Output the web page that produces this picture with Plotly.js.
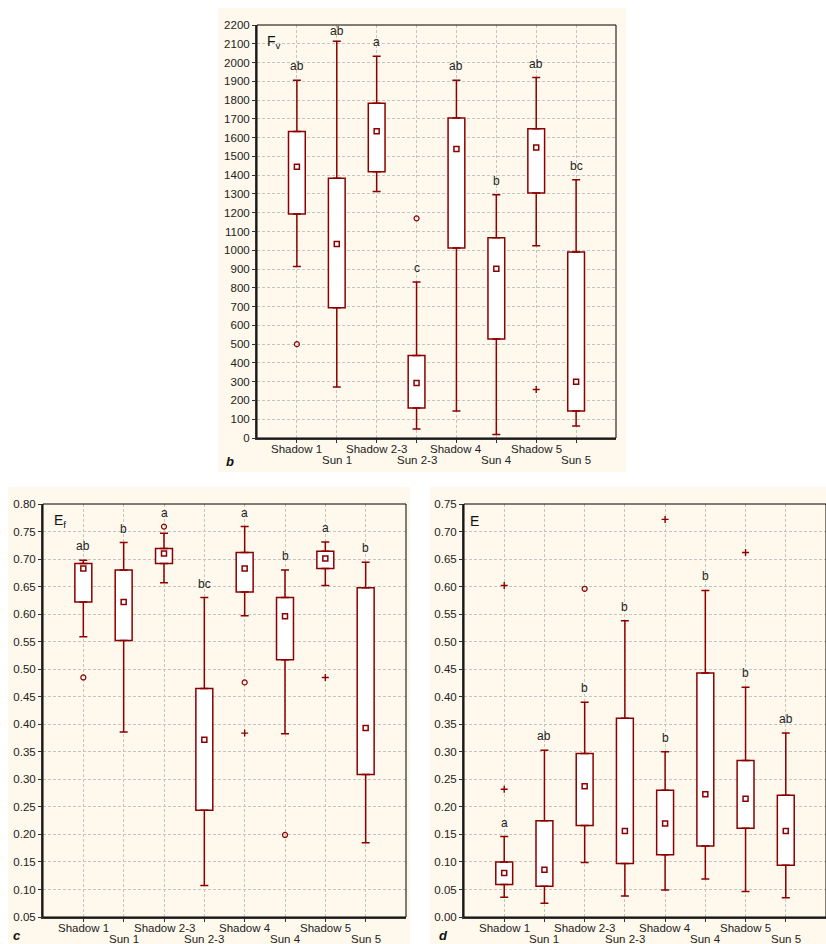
<!DOCTYPE html>
<html><head><meta charset="utf-8">
<script src="https://cdn.plot.ly/plotly-3.0.1.min.js"></script>
<style>html,body{margin:0;padding:0;background:#fff}#chart{width:826px;height:944px}</style>
</head><body><div id="chart"></div>
<script>
const categories = ["Shadow 1","Sun 1","Shadow 2-3","Sun 2-3","Shadow 4","Sun 4","Shadow 5","Sun 5"];

// Panel b: Fv
const fvLower  = [913, 272, 1313, 48, 144, 18, 1024, 64];
const fvQ1     = [1193, 694, 1418, 160, 1012, 528, 1305, 144];
const fvMedian = [1445, 1033, 1634, 293, 1540, 902, 1548, 300];
const fvQ3     = [1633, 1384, 1783, 439, 1705, 1067, 1647, 991];
const fvUpper  = [1906, 2113, 2033, 831, 1906, 1296, 1920, 1376];
const fvLetters = ["ab","ab","a","c","ab","b","ab","bc"];
const fvOutlierCat = ["Shadow 1","Sun 2-3"];
const fvOutlierVal = [500, 1170];
const fvExtremeCat = ["Shadow 5"];
const fvExtremeVal = [258];

// Panel c: Ef
const efLower  = [0.559, 0.386, 0.657, 0.107, 0.597, 0.383, 0.652, 0.185];
const efQ1     = [0.622, 0.552, 0.692, 0.244, 0.640, 0.517, 0.683, 0.309];
const efMedian = [0.683, 0.622, 0.710, 0.372, 0.683, 0.596, 0.701, 0.393];
const efQ3     = [0.692, 0.680, 0.719, 0.465, 0.712, 0.630, 0.714, 0.648];
const efUpper  = [0.698, 0.730, 0.747, 0.630, 0.759, 0.680, 0.731, 0.694];
const efLetters = ["ab","b","a","bc","a","b","a","b"];
const efOutlierCat = ["Shadow 1","Shadow 2-3","Shadow 4","Sun 4"];
const efOutlierVal = [0.485, 0.759, 0.476, 0.199];
const efExtremeCat = ["Shadow 4","Shadow 5"];
const efExtremeVal = [0.384, 0.485];

// Panel d: E
const eLower  = [0.036, 0.025, 0.099, 0.038, 0.049, 0.069, 0.0465, 0.035];
const eQ1     = [0.059, 0.056, 0.166, 0.097, 0.113, 0.129, 0.161, 0.094];
const eMedian = [0.080, 0.086, 0.2375, 0.156, 0.170, 0.223, 0.2146, 0.156];
const eQ3     = [0.100, 0.175, 0.297, 0.361, 0.230, 0.443, 0.284, 0.221];
const eUpper  = [0.146, 0.303, 0.390, 0.538, 0.300, 0.593, 0.417, 0.334];
const eLetters = ["a","ab","b","b","b","b","b","ab"];
const eOutlierCat = ["Shadow 2-3"];
const eOutlierVal = [0.596];
const eExtremeCat = ["Shadow 1","Shadow 1","Shadow 4","Shadow 5"];
const eExtremeVal = [0.602, 0.232, 0.722, 0.662];

const RED = '#8b0000';
const FONT = 'Liberation Sans, Arial, sans-serif';
const CREAM = '#fef9ec';
const PLOT_H = 413; // plot height in px, used to turn label offsets into axis units

const traces = [];
const annotations = [];
const shapes = [];

function panel(xa, ya, p, yRange) {
  const xr = xa.replace('axis',''), yr = ya.replace('axis','');
  const span = yRange[1] - yRange[0];
  const perPx = span / PLOT_H;
  traces.push({type:'bar', x:categories, base:p.q1, y:p.q3.map((v,i)=>v-p.q1[i]),
    width:0.42, xaxis:xr, yaxis:yr, hoverinfo:'skip',
    marker:{color:'#ffffff', line:{color:RED, width:1.5}}});
  traces.push({type:'scatter', mode:'markers', x:categories, y:p.q3, xaxis:xr, yaxis:yr,
    marker:{size:1, opacity:0}, hoverinfo:'skip',
    error_y:{type:'data', symmetric:false, array:p.upper.map((v,i)=>v-p.q3[i]),
      arrayminus:p.q3.map(()=>0), width:4, thickness:1.5, color:RED}});
  traces.push({type:'scatter', mode:'markers', x:categories, y:p.q1, xaxis:xr, yaxis:yr,
    marker:{size:1, opacity:0}, hoverinfo:'skip',
    error_y:{type:'data', symmetric:false, array:p.q1.map(()=>0),
      arrayminus:p.q1.map((v,i)=>v-p.lower[i]), width:4, thickness:1.5, color:RED}});
  traces.push({type:'scatter', mode:'markers', x:categories, y:p.median, xaxis:xr, yaxis:yr,
    marker:{symbol:'square-open', size:5, color:RED, line:{width:1.5, color:RED}}});
  traces.push({type:'scatter', mode:'markers', x:p.outCat, y:p.outVal, xaxis:xr, yaxis:yr,
    marker:{symbol:'circle-open', size:5, color:RED, line:{width:1.2, color:RED}}});
  traces.push({type:'scatter', mode:'markers', x:p.extCat, y:p.extVal, xaxis:xr, yaxis:yr,
    marker:{symbol:'cross-thin-open', size:5, color:RED, line:{width:1.4, color:RED}}});

  categories.forEach((c,i)=>{
    annotations.push({text:c, x:c, xref:xr, y:0, yref:yr+' domain', yanchor:'middle',
      yshift:(i%2===0)?-11:-22, showarrow:false, font:{size:11.5, family:FONT, color:'#222'}});
    let anchor = p.upper[i];
    p.outCat.forEach((oc,k)=>{ if(oc===c && p.outVal[k]>anchor && p.outVal[k]-anchor < 0.05*span) anchor = p.outVal[k]; });
    const ly = Math.min(anchor + 14*perPx, yRange[1] - 6*perPx);
    annotations.push({text:p.letters[i], x:c, xref:xr, y:ly, yref:yr, yanchor:'middle',
      showarrow:false, font:{size:12, family:FONT, color:'#222'}});
  });
  shapes.push({type:'rect', xref:xr+' domain', yref:yr+' domain', x0:0, x1:1, y0:0, y1:1,
    line:{color:'#000', width:1}, layer:'above'});
}

panel('xaxis','yaxis', {q1:fvQ1, median:fvMedian, q3:fvQ3, lower:fvLower, upper:fvUpper,
  letters:fvLetters, outCat:fvOutlierCat, outVal:fvOutlierVal, extCat:fvExtremeCat, extVal:fvExtremeVal}, [0,2200]);
panel('xaxis2','yaxis2', {q1:efQ1, median:efMedian, q3:efQ3, lower:efLower, upper:efUpper,
  letters:efLetters, outCat:efOutlierCat, outVal:efOutlierVal, extCat:efExtremeCat, extVal:efExtremeVal}, [0.05,0.80]);
panel('xaxis3','yaxis3', {q1:eQ1, median:eMedian, q3:eQ3, lower:eLower, upper:eUpper,
  letters:eLetters, outCat:eOutlierCat, outVal:eOutlierVal, extCat:eExtremeCat, extVal:eExtremeVal}, [0,0.75]);

// cream panel backgrounds
shapes.push({type:'rect', xref:'paper', yref:'paper', x0:218/826, x1:626/826, y0:1-472/944, y1:1-8/944, fillcolor:CREAM, line:{width:0}, layer:'below'});
shapes.push({type:'rect', xref:'paper', yref:'paper', x0:8/826, x1:410/826, y0:0, y1:1-487/944, fillcolor:CREAM, line:{width:0}, layer:'below'});
shapes.push({type:'rect', xref:'paper', yref:'paper', x0:430/826, x1:1, y0:0, y1:1-487/944, fillcolor:CREAM, line:{width:0}, layer:'below'});

// panel titles
annotations.push({text:'F<sub>v</sub>', xref:'x domain', yref:'y domain', x:0.022, y:0.959, xanchor:'left', yanchor:'middle', showarrow:false, font:{size:14, family:FONT, color:'#111'}});
annotations.push({text:'E<sub>f</sub>', xref:'x2 domain', yref:'y2 domain', x:0.024, y:0.959, xanchor:'left', yanchor:'middle', showarrow:false, font:{size:14, family:FONT, color:'#111'}});
annotations.push({text:'E', xref:'x3 domain', yref:'y3 domain', x:0.011, y:0.959, xanchor:'left', yanchor:'middle', showarrow:false, font:{size:14, family:FONT, color:'#111'}});
// panel letters
[['b',230,461],['c',17,935],['d',444,935]].forEach(a=>{
  annotations.push({text:'<b><i>'+a[0]+'</i></b>', xref:'paper', yref:'paper', x:a[1]/826, y:1-a[2]/944,
    xanchor:'center', yanchor:'middle', showarrow:false, font:{size:13, family:FONT, color:'#111'}});
});

function xAxis(dom, anchor){
  return {domain:dom, anchor:anchor, type:'category', categoryorder:'array', categoryarray:categories,
    range:[-1,8], showgrid:true, gridcolor:'#c4c4c4', griddash:'3px,2px', gridwidth:1,
    showline:true, linecolor:'#333', linewidth:2, ticks:'outside', ticklen:3, tickcolor:'#333',
    showticklabels:false, zeroline:false, fixedrange:true};
}
function yAxis(dom, anchor, range, dtick, fmt){
  return {domain:dom, anchor:anchor, range:range, tick0:0, dtick:dtick, tickformat:fmt,
    showgrid:true, gridcolor:'#c4c4c4', griddash:'3px,2px', gridwidth:1,
    showline:true, linecolor:'#333', linewidth:2, ticks:'outside', ticklen:3, tickcolor:'#333',
    tickfont:{size:11.5, family:FONT, color:'#222'}, zeroline:false, fixedrange:true};
}

const yTop = [1-438/944, 1-25/944];
const yBot = [1-917/944, 1-504/944];
const layout = {
  width:826, height:944, margin:{l:0,r:0,t:0,b:0}, showlegend:false,
  paper_bgcolor:'#ffffff', plot_bgcolor:'#ffffff', font:{family:FONT, size:11, color:'#222'},
  xaxis: xAxis([257/826, 616/826], 'y'),
  yaxis: yAxis(yTop, 'x', [0,2200], 100, 'd'),
  xaxis2: xAxis([43/826, 406/826], 'y2'),
  yaxis2: yAxis(yBot, 'x2', [0.05,0.80], 0.05, '.2f'),
  xaxis3: xAxis([464/826, 1], 'y3'),
  yaxis3: yAxis(yBot, 'x3', [0,0.75], 0.05, '.2f'),
  annotations: annotations, shapes: shapes, bargap:0
};
Plotly.newPlot('chart', traces, layout, {staticPlot:true, displayModeBar:false});
</script>
</body></html>
